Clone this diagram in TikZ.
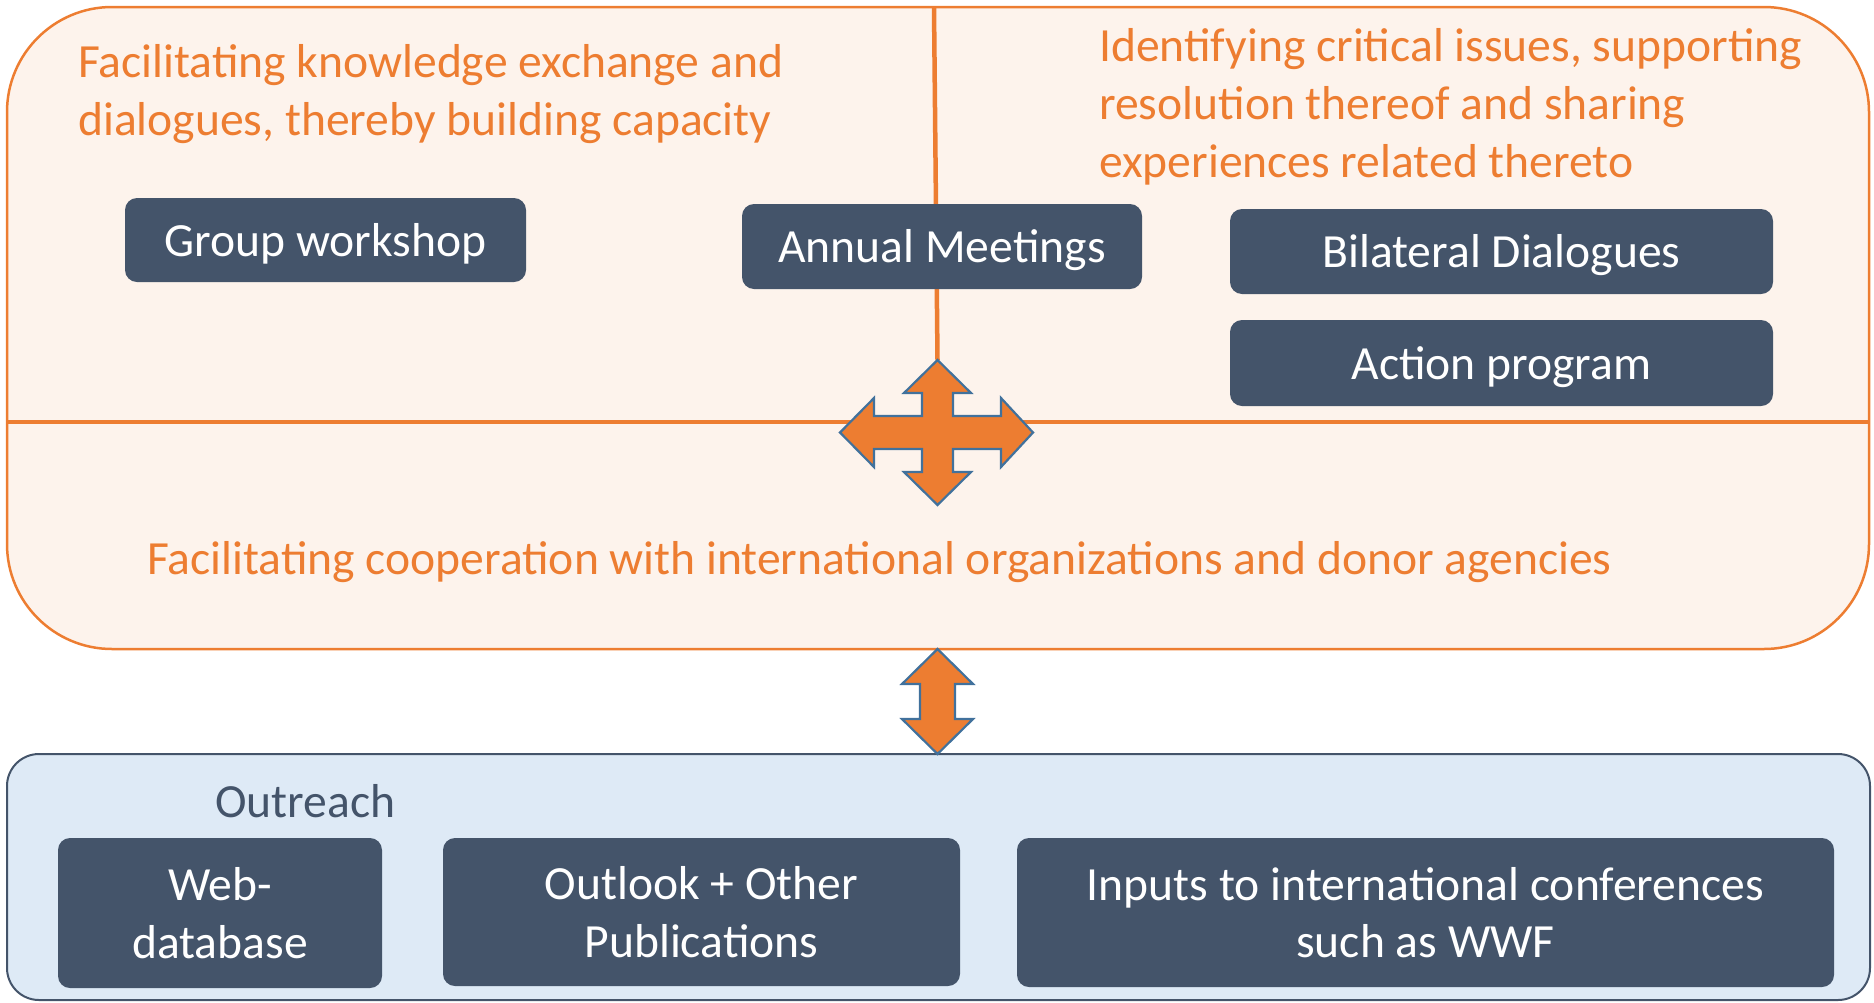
\documentclass[tikz,border=0pt]{standalone}
\usepackage{fontspec}
\setmainfont{Carlito}
\definecolor{orng}{HTML}{ED7D31}
\definecolor{orngfill}{HTML}{FDF3EC}
\definecolor{slate}{HTML}{44546A}
\definecolor{paleblue}{HTML}{DEEAF6}
\definecolor{arrowedge}{HTML}{41719C}
\newcommand\bigfont{\fontsize{47.6}{57.5}\selectfont}
\newcommand\ppA{\rule{0pt}{45.5pt}}
\newcommand\ppD{\rule[-12.8pt]{0pt}{12.8pt}}
\begin{document}
\begin{tikzpicture}[x=1pt,y=-1pt,
  darkbox/.style={fill=slate, rounded corners=12pt, text=white, inner sep=0pt, align=center, font=\bigfont},
  titletext/.style={text=orng, inner sep=0pt, anchor=base west, font=\bigfont},
  divline/.style={draw=orng, line width=4.5pt},
  blockarrow/.style={fill=orng, draw=arrowedge, line width=2.2pt, line join=miter}]
\useasboundingbox (0,0) rectangle (1874,1002);
% upper panel
\node[draw=orng, line width=2.5pt, fill=orngfill, rounded corners=105pt, minimum width=1862pt, minimum height=642pt, inner sep=0pt] (upper) at (938,328) {};
% lower panel
\node[draw=slate, line width=2pt, fill=paleblue, rounded corners=32pt, minimum width=1863pt, minimum height=246pt, inner sep=0pt] (lower) at (938.5,877) {};
% dividing lines
\coordinate (vt) at (934,8);
\coordinate (ct) at (937.5,360);
\coordinate (hl) at (7,422);
\coordinate (hr) at (1869,422);
\draw[divline] (vt) -- (ct);
\draw[divline] (hl) -- (hr);
% titles
\node[titletext] (t1a) at (78,77) {Facilitating knowledge exchange and};
\node[titletext] (t1b) at (78,135) {dialogues, thereby building capacity};
\node[titletext] (t2a) at (1099,61) {Identifying critical issues, supporting};
\node[titletext] (t2b) at (1099,119) {resolution thereof and sharing};
\node[titletext] (t2c) at (1099,177) {experiences related thereto};
\node[titletext] (t3) at (147,574) {Facilitating cooperation with international organizations and donor agencies};
\node[titletext, text=slate] (out) at (215,817) {Outreach};
% dark boxes
\node[darkbox, minimum width=401pt, minimum height=84pt] (gw) at (325.5,240) {\ppA Group workshop\ppD};
\node[darkbox, minimum width=400pt, minimum height=85pt] (am) at (942,246.5) {\ppA Annual Meetings\ppD};
\node[darkbox, minimum width=543pt, minimum height=85pt] (bd) at (1501.5,251.5) {\ppA Bilateral Dialogues\ppD};
\node[darkbox, minimum width=543pt, minimum height=86pt] (ap) at (1501.5,363) {\ppA Action program\ppD};
\node[darkbox, minimum width=324pt, minimum height=150pt] (web) at (220,913) {\ppA Web-\\database\ppD};
\node[darkbox, minimum width=517pt, minimum height=148pt] (ol) at (701.5,912) {\ppA Outlook + Other\\Publications\ppD};
\node[darkbox, minimum width=817pt, minimum height=149pt] (inp) at (1425.5,912.5) {\ppA Inputs to international conferences\\such as WWF\ppD};
% four-way arrow
\draw[blockarrow] (ct) -- (971,393) -- (953,393) -- (953,416) -- (1001,416) -- (1001,398) -- (1033,432.5) -- (1001,467) -- (1001,449) -- (953,449) -- (953,472) -- (971,472) -- (937.5,505) -- (904,472) -- (922,472) -- (922,449) -- (874,449) -- (874,467) -- (840,432.5) -- (874,398) -- (874,416) -- (922,416) -- (922,393) -- (904,393) -- cycle;
% double arrow between panels
\coordinate (dt) at (937.5,649);
\coordinate (db) at (937.5,754);
\draw[blockarrow] (dt) -- (973,684) -- (955,684) -- (955,719) -- (973,719) -- (db) -- (902,719) -- (920,719) -- (920,684) -- (902,684) -- cycle;
\end{tikzpicture}
\end{document}
